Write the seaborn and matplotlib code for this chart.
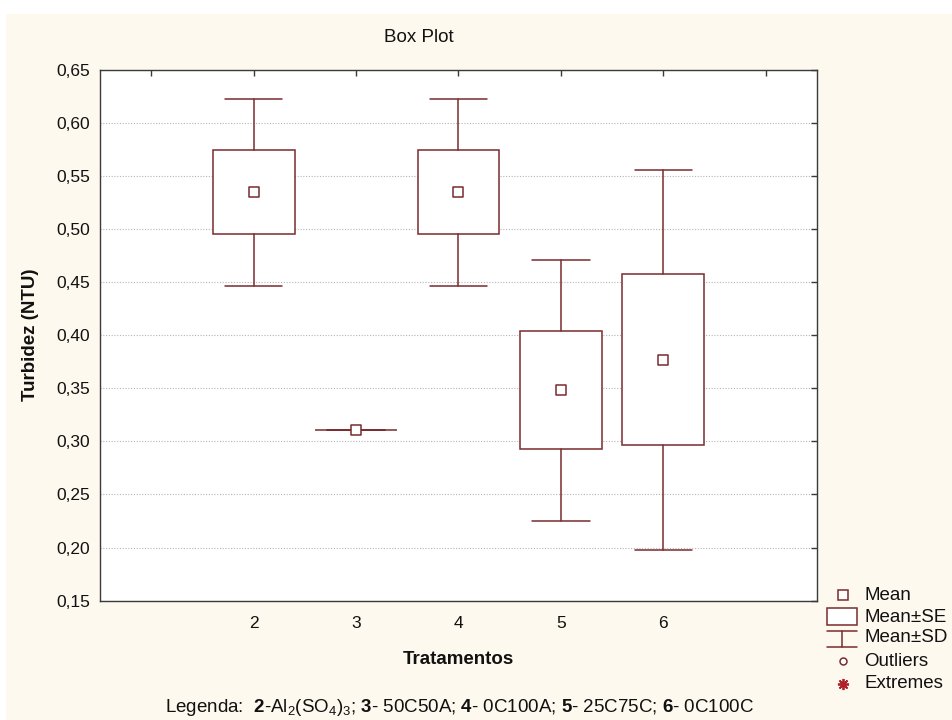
import numpy as np
import pandas as pd
import matplotlib
matplotlib.use('Agg')
import matplotlib.pyplot as plt
import seaborn as sns
from matplotlib.patches import Rectangle

# Valores (media, erro padrao, desvio padrao)
tratamentos = [2, 3, 4, 5, 6]
medias = [0.5346, 0.311, 0.5346, 0.348, 0.3766]
erro_padrao = [0.0394, 0.0, 0.0394, 0.0555, 0.0805]
desvio_padrao = [0.0879, 0.0, 0.0879, 0.123, 0.179]

xticks_pos = [1, 2, 3, 4, 5, 6, 7]
xticks_lab = ['', '2', '3', '4', '5', '6', '']
yticks_val = [0.15, 0.20, 0.25, 0.30, 0.35, 0.40, 0.45, 0.50, 0.55, 0.60, 0.65]

legenda_itens = ['Mean', 'Mean±SE', 'Mean±SD', 'Outliers', 'Extremes']

df = pd.DataFrame({'Tratamento': tratamentos, 'Media': medias,
                   'EP': erro_padrao, 'DP': desvio_padrao})

cor = '#7a2b2e'
creme = '#fdf9ee'

sns.set_theme(style='white')
plt.rcParams['font.family'] = ['Liberation Sans', 'DejaVu Sans']
plt.rcParams['mathtext.fontset'] = 'custom'
plt.rcParams['mathtext.default'] = 'regular'
plt.rcParams['mathtext.bf'] = 'Liberation Sans:bold'
plt.rcParams['mathtext.rm'] = 'Liberation Sans'

fig = plt.figure(figsize=(9.52, 7.2), dpi=100, facecolor='white')
fig.patches.append(Rectangle((6 / 952, 0), 1, (720 - 14) / 720, transform=fig.transFigure,
                             facecolor=creme, edgecolor='none', zorder=-10))

ax = fig.add_axes([0.1050, 0.1658, 0.7532, 0.7375])
ax.set_facecolor('white')

# caixas = media +- EP, bigodes = media +- DP
stats = []
for _, r in df.iterrows():
    stats.append(dict(med=r['Media'], q1=r['Media'] - r['EP'], q3=r['Media'] + r['EP'],
                      whislo=r['Media'] - r['DP'], whishi=r['Media'] + r['DP'],
                      fliers=[], label=str(int(r['Tratamento']))))

ax.bxp(stats, positions=tratamentos, widths=0.8, capwidths=0.56, patch_artist=True,
       showfliers=False, manage_ticks=False,
       boxprops=dict(facecolor='white', edgecolor=cor, linewidth=1.1),
       whiskerprops=dict(color=cor, linewidth=1.1),
       capprops=dict(color=cor, linewidth=1.1),
       medianprops=dict(linewidth=0))

sns.scatterplot(data=df, x='Tratamento', y='Media', marker='s', s=42, color='white',
                edgecolor=cor, linewidth=1.1, ax=ax, zorder=5, legend=False)

ax.set_xlim(0.5, 7.5)
ax.set_ylim(0.15, 0.65)
ax.set_xticks(xticks_pos)
ax.set_xticklabels(xticks_lab)
ax.set_yticks(yticks_val)
ax.set_yticklabels([f'{v:.2f}'.replace('.', ',') for v in yticks_val])
ax.yaxis.grid(True, linestyle=(0, (1, 1.5)), color='#b5b5b5', linewidth=0.8)
ax.xaxis.grid(False)
ax.set_axisbelow(True)
for s in ax.spines.values():
    s.set_color('#3a3a3a')
    s.set_linewidth(1.0)
ax.tick_params(axis='both', direction='in', top=True, right=True, length=4, width=1,
               color='#3a3a3a', labelcolor='#111111', labelsize=12.5)
ax.tick_params(axis='x', pad=11)
ax.tick_params(axis='y', pad=7)

ax.set_xlabel('Tratamentos', fontsize=13.5, fontweight='bold', color='#111111')
ax.set_ylabel('Turbidez (NTU)', fontsize=13.5, fontweight='bold', color='#111111')
ax.xaxis.set_label_coords(0.5, -0.095)
ax.yaxis.set_label_coords(-0.085, 0.5)

fig.text(419 / 952, 1 - 38 / 720, 'Box Plot', ha='center', va='center', fontsize=13.5,
         color='#111111')
fig.text(460 / 952, 1 - 707 / 720,
         r'Legenda:  $\mathbf{2}$-Al$_2$(SO$_4$)$_3$; $\mathbf{3}$- 50C50A; '
         r'$\mathbf{4}$- 0C100A; $\mathbf{5}$- 25C75C; $\mathbf{6}$- 0C100C',
         ha='center', va='center', fontsize=13.5, color='#111111')

# legenda lateral (em pixels da figura)
lax = fig.add_axes([820 / 952, 10 / 720, 132 / 952, 130 / 720])
lax.set_xlim(820, 952)
lax.set_ylim(710, 580)
lax.axis('off')
ys = [595, 617, 638, 661, 683]
lax.plot([843], [595], marker='s', ms=6.5, mfc='white', mec=cor, mew=1.1, ls='none')
lax.add_patch(Rectangle((827, 608), 30, 17, facecolor='white', edgecolor=cor, linewidth=1.1))
lax.plot([827, 857], [631, 631], color=cor, lw=1.1)
lax.plot([842, 842], [631, 647], color=cor, lw=1.1)
lax.plot([827, 857], [647, 647], color=cor, lw=1.1)
lax.plot([843], [661], marker='o', ms=5, mfc='white', mec=cor, mew=1.1, ls='none')
lax.plot([843], [684], marker=(8, 2, 0), ms=8, mec='#b0202a', mew=1.3, ls='none')
for y, t in zip(ys, legenda_itens):
    lax.text(864, y, t, ha='left', va='center', fontsize=13.5, color='#111111')

fig.savefig('out.png', dpi=100, facecolor=fig.get_facecolor())
